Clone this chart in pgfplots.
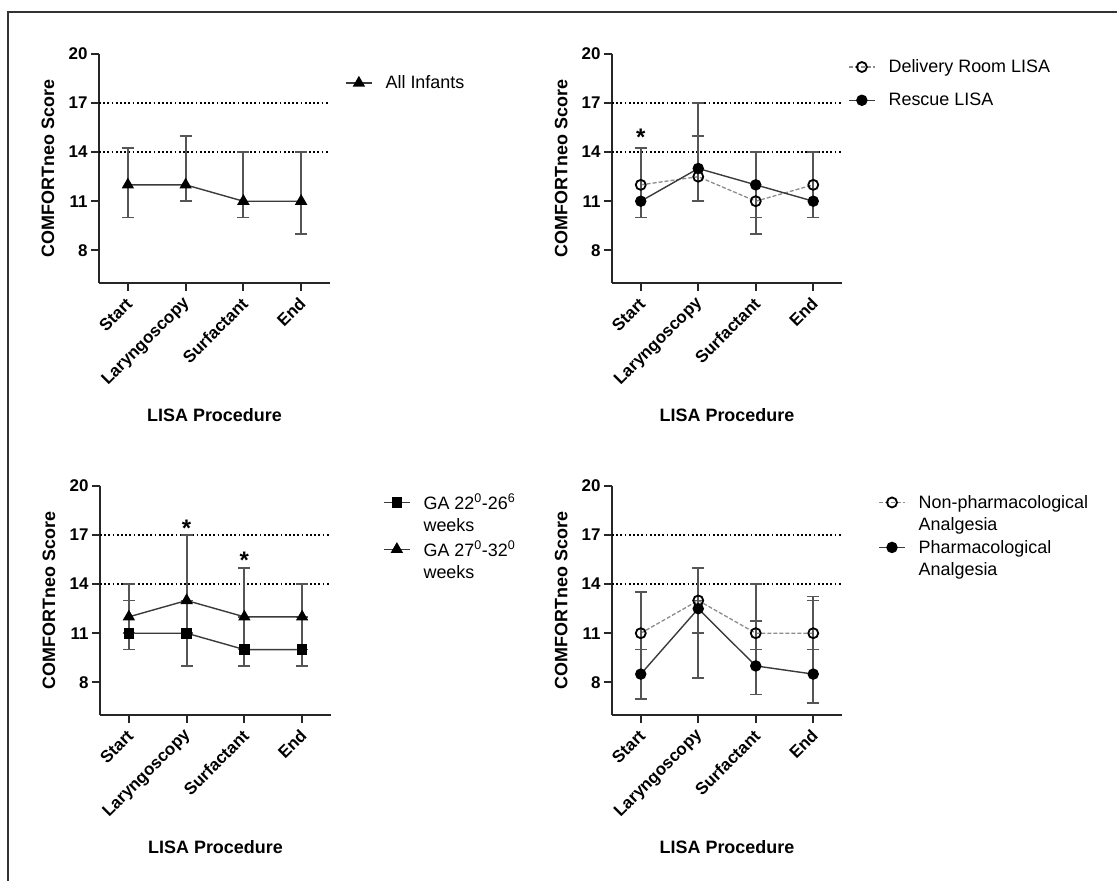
\documentclass[border=0pt]{standalone}
\usepackage{fontspec}
\setmainfont{Liberation Sans}
\usepackage{pgfplots}
\pgfplotsset{compat=1.18}
\usepackage{pgfplotstable}

\definecolor{linegray}{HTML}{3A3A3A}
\definecolor{dashgray}{HTML}{8C8C8C}
\definecolor{errgray}{HTML}{555555}

\newcommand\tickfont{\bfseries\fontsize{17}{20}\selectfont}
\newcommand\labfont{\bfseries\fontsize{18}{21}\selectfont}
\newcommand\legfont{\fontsize{18}{22}\selectfont}
\newcommand\starfont{\bfseries\fontsize{24}{24}\selectfont}

% x y err+ err-
\pgfplotstableread{
x y ep em
0 12 2.25 2
1 12 3 1
2 11 3 1
3 11 3 2
}\allinf
\pgfplotstableread{
x y ep em
0 12 2.25 2
1 12.5 2.5 1.5
2 11 3 2
3 12 2 2
}\delroom
\pgfplotstableread{
x y ep em
0 11 3.25 1
1 13 4 2
2 12 2 2
3 11 3 1
}\rescue
\pgfplotstableread{
x y ep em
0 11 2 1
1 11 2 2
2 10 2 1
3 10 2 1
}\gaearly
\pgfplotstableread{
x y ep em
0 12 2 1
1 13 4 2
2 12 3 2
3 12 2 2
}\galate
\pgfplotstableread{
x y ep em
0 11 2.5 1
1 13 2 2
2 11 3 1
3 11 2.25 1
}\nonpharm
\pgfplotstableread{
x y ep em
0 8.5 1.5 1.5
1 12.5 0.5 4.25
2 9 2.75 1.75
3 8.5 4.5 1.75
}\pharm

\pgfplotsset{
  panel/.style={
    scale only axis, width=231bp, height=229bp,
    xmin=-0.5, xmax=3.5, ymin=6, ymax=20,
    xtick={0,1,2,3}, xticklabels={Start,Laryngoscopy,Surfactant,End},
    ytick={8,11,14,17,20},
    axis x line*=bottom, axis y line*=left,
    axis line style={-, line width=2.2bp, black!85},
    tick style={line width=2.2bp, black!85},
    tick align=outside, major tick length=8bp,
    ticklabel style={font=\tickfont},
    /pgf/number format/assume math mode=true,
    xticklabel style={rotate=45, anchor=east, xshift=-2.5bp, yshift=-8bp},
    ylabel={COMFORTneo Score}, xlabel={LISA Procedure},
    every axis y label/.style={at={(axis description cs:-0.221,0.5)}, rotate=90,
      anchor=center, font=\labfont},
    every axis x label/.style={at={(axis description cs:0.5,0)}, anchor=center,
      yshift=-132bp, font=\labfont},
    clip=false,
    legend style={draw=none, fill=none, font=\legfont, anchor=north west,
      row sep=6bp, column sep=12bp, inner sep=0pt,
      cells={anchor=west}, nodes={inner sep=1bp}},
    legend image code/.code={
      \draw[mark repeat=2, mark phase=2]
        plot coordinates {(0bp,0bp) (13bp,0bp) (26bp,0bp)};},
  },
  errs/.style={error bars/.cd, y dir=both, y explicit,
    error bar style={solid, errgray, line width=1.8bp},
    error mark options={rotate=90, solid, errgray, line width=1.8bp, mark size=6bp}},
  openser/.style={dashgray, line width=1.3bp, dash pattern=on 4bp off 2bp,
    mark=o, mark size=5bp, mark options={solid, draw=black, fill=white, line width=1.8bp}, errs},
  filledser/.style={linegray, line width=1.4bp, solid,
    mark=*, mark size=5bp, mark options={draw=black, fill=black}, errs},
  triser/.style={linegray, line width=1.4bp, solid,
    mark=triangle*, mark size=5.8bp, mark options={draw=black, fill=black}, errs},
  sqser/.style={linegray, line width=1.4bp, solid,
    mark=square*, mark size=4.6bp, mark options={draw=black, fill=black}, errs},
  refline/.style={forget plot, black, line width=1.8bp, dash pattern=on 1.8bp off 2.4bp, mark=none},
}

\begin{document}
\begin{tikzpicture}
\useasboundingbox (0,0) rectangle (1117bp,881bp);
\draw[line width=1.5bp, black!80] (8bp,0bp) -- (8bp,869bp) -- (1117bp,869bp);

% top left
\begin{axis}[panel, at={(99bp,598bp)}, anchor=south west,
  legend style={at={(axis description cs:1.065,0.91)}}]
\addplot[refline] coordinates {(-0.5,14) (3.5,14)};
\addplot[refline] coordinates {(-0.5,17) (3.5,17)};
\addplot[triser] table[x=x, y=y, y error plus=ep, y error minus=em] {\allinf};
\addlegendentry{All Infants}
\end{axis}

% top right
\begin{axis}[panel, width=230bp, at={(612bp,598bp)}, anchor=south west,
  legend style={at={(axis description cs:1.026,0.98)}, row sep=17bp}]
\addplot[refline] coordinates {(-0.5,14) (3.5,14)};
\addplot[refline] coordinates {(-0.5,17) (3.5,17)};
\addplot[openser] table[x=x, y=y, y error plus=ep, y error minus=em] {\delroom};
\addlegendentry{Delivery Room LISA}
\addplot[filledser] table[x=x, y=y, y error plus=ep, y error minus=em] {\rescue};
\addlegendentry{Rescue LISA}
\node[font=\starfont, yshift=-5bp] at (axis cs:0,15.2) {*};
\end{axis}

% bottom left
\begin{axis}[panel, at={(100bp,166bp)}, anchor=south west,
  legend style={at={(axis description cs:1.225,0.97)}}]
\addplot[refline] coordinates {(-0.5,14) (3.5,14)};
\addplot[refline] coordinates {(-0.5,17) (3.5,17)};
\addplot[sqser] table[x=x, y=y, y error plus=ep, y error minus=em] {\gaearly};
\addlegendentry{GA 22\textsuperscript{0}-26\textsuperscript{6}}
\addlegendimage{empty legend}
\addlegendentry{weeks}
\addplot[triser] table[x=x, y=y, y error plus=ep, y error minus=em] {\galate};
\addlegendentry{GA 27\textsuperscript{0}-32\textsuperscript{0}}
\addlegendimage{empty legend}
\addlegendentry{weeks}
\node[font=\starfont, yshift=-5bp] at (axis cs:1,17.7) {*};
\node[font=\starfont, yshift=-5bp] at (axis cs:2,15.75) {*};
\end{axis}

% bottom right
\begin{axis}[panel, width=230bp, at={(612bp,166bp)}, anchor=south west,
  legend style={at={(axis description cs:1.157,0.965)}}]
\addplot[refline] coordinates {(-0.5,14) (3.5,14)};
\addplot[refline] coordinates {(-0.5,17) (3.5,17)};
\addplot[openser] table[x=x, y=y, y error plus=ep, y error minus=em] {\nonpharm};
\addlegendentry{Non-pharmacological}
\addlegendimage{empty legend}
\addlegendentry{Analgesia}
\addplot[filledser] table[x=x, y=y, y error plus=ep, y error minus=em] {\pharm};
\addlegendentry{Pharmacological}
\addlegendimage{empty legend}
\addlegendentry{Analgesia}
\end{axis}
\end{tikzpicture}
\end{document}
